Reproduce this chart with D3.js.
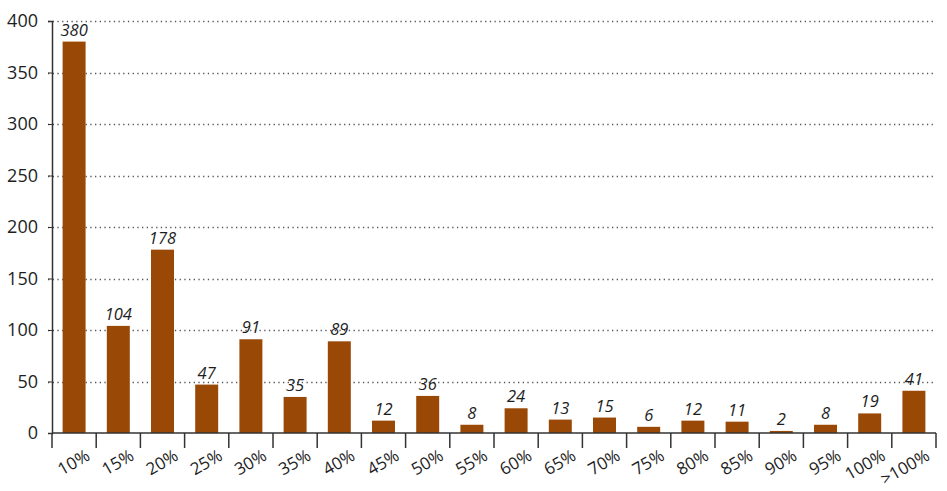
<!DOCTYPE html>
<html>
<head>
<meta charset="utf-8">
<script src="https://cdn.jsdelivr.net/npm/d3@7"></script>
<style>
  html, body { margin: 0; padding: 0; background: #fff; }
  svg { display: block; font-family: "Open Sans", "Noto Sans", sans-serif; }
</style>
</head>
<body>
<svg id="chart" width="947" height="491"></svg>
<script>
// Distribution buckets and their counts
const categories = ["10%", "15%", "20%", "25%", "30%", "35%", "40%", "45%", "50%", "55%",
                    "60%", "65%", "70%", "75%", "80%", "85%", "90%", "95%", "100%", ">100%"];
const counts = [380, 104, 178, 47, 91, 35, 89, 12, 36, 8, 24, 13, 15, 6, 12, 11, 2, 8, 19, 41];
const yTicks = [0, 50, 100, 150, 200, 250, 300, 350, 400];

const data = categories.map((c, i) => ({ cat: c, value: counts[i] }));

const svg = d3.select("#chart");
const margin = { left: 52, right: 11, top: 21, bottom: 58 };
const W = 947, H = 491;

const x = d3.scaleBand()
  .domain(categories)
  .range([margin.left, W - margin.right])
  .paddingInner(0.48)
  .paddingOuter(0.24);

const y = d3.scaleLinear()
  .domain([0, 400])
  .range([H - margin.bottom, margin.top]);

const textColor = "#1e1e1e";
const barColor = "#994806";

// dotted gridlines
svg.append("g")
  .selectAll("line")
  .data(yTicks.filter(d => d > 0))
  .join("line")
  .attr("x1", margin.left - 4)
  .attr("x2", W - margin.right)
  .attr("y1", d => Math.round(y(d)) + 0.5)
  .attr("y2", d => Math.round(y(d)) + 0.5)
  .attr("stroke", "#555")
  .attr("stroke-width", 1.3)
  .attr("stroke-dasharray", "1.3,3.4");

// bars
svg.append("g")
  .selectAll("rect")
  .data(data)
  .join("rect")
  .attr("x", d => x(d.cat))
  .attr("y", d => y(d.value))
  .attr("width", x.bandwidth())
  .attr("height", d => y(0) - y(d.value))
  .attr("fill", barColor);

// value labels
svg.append("g")
  .selectAll("text")
  .data(data)
  .join("text")
  .attr("x", d => x(d.cat) + x.bandwidth() / 2)
  .attr("y", d => y(d.value) - 6)
  .attr("text-anchor", "middle")
  .attr("font-size", 16.5)
  .attr("font-style", "italic")
  .attr("fill", textColor)
  .text(d => d.value);

// y axis
const yAxis = svg.append("g")
  .attr("transform", `translate(${margin.left},0)`)
  .call(d3.axisLeft(y).tickValues(yTicks).tickSize(4).tickPadding(10));
yAxis.select(".domain").attr("stroke", "#333").attr("stroke-width", 1.5);
yAxis.selectAll(".tick line").attr("stroke", "#333");
yAxis.selectAll(".tick text")
  .attr("font-size", 18)
  .attr("font-family", "\"Open Sans\", \"Noto Sans\", sans-serif")
  .attr("fill", textColor);

// x axis: ticks at category boundaries
const x0 = y(0);
const bounds = categories.map(c => x(c) - x.step() * x.paddingInner() / 2);
bounds.push(W - margin.right);
const xg = svg.append("g");
xg.append("line")
  .attr("x1", margin.left).attr("x2", W - margin.right)
  .attr("y1", x0).attr("y2", x0)
  .attr("stroke", "#333").attr("stroke-width", 1.5);
xg.selectAll("line.tk")
  .data(bounds)
  .join("line")
  .attr("class", "tk")
  .attr("x1", d => d).attr("x2", d => d)
  .attr("y1", x0).attr("y2", x0 + 15)
  .attr("stroke", "#333").attr("stroke-width", 1.5);

xg.selectAll("text")
  .data(categories)
  .join("text")
  .attr("transform", c => `translate(${x(c) + x.bandwidth() / 2 + 17},${x0 + 26}) rotate(-30)`)
  .attr("text-anchor", "end")
  .attr("font-size", 17)
  .attr("fill", textColor)
  .text(c => c);
</script>
</body>
</html>
